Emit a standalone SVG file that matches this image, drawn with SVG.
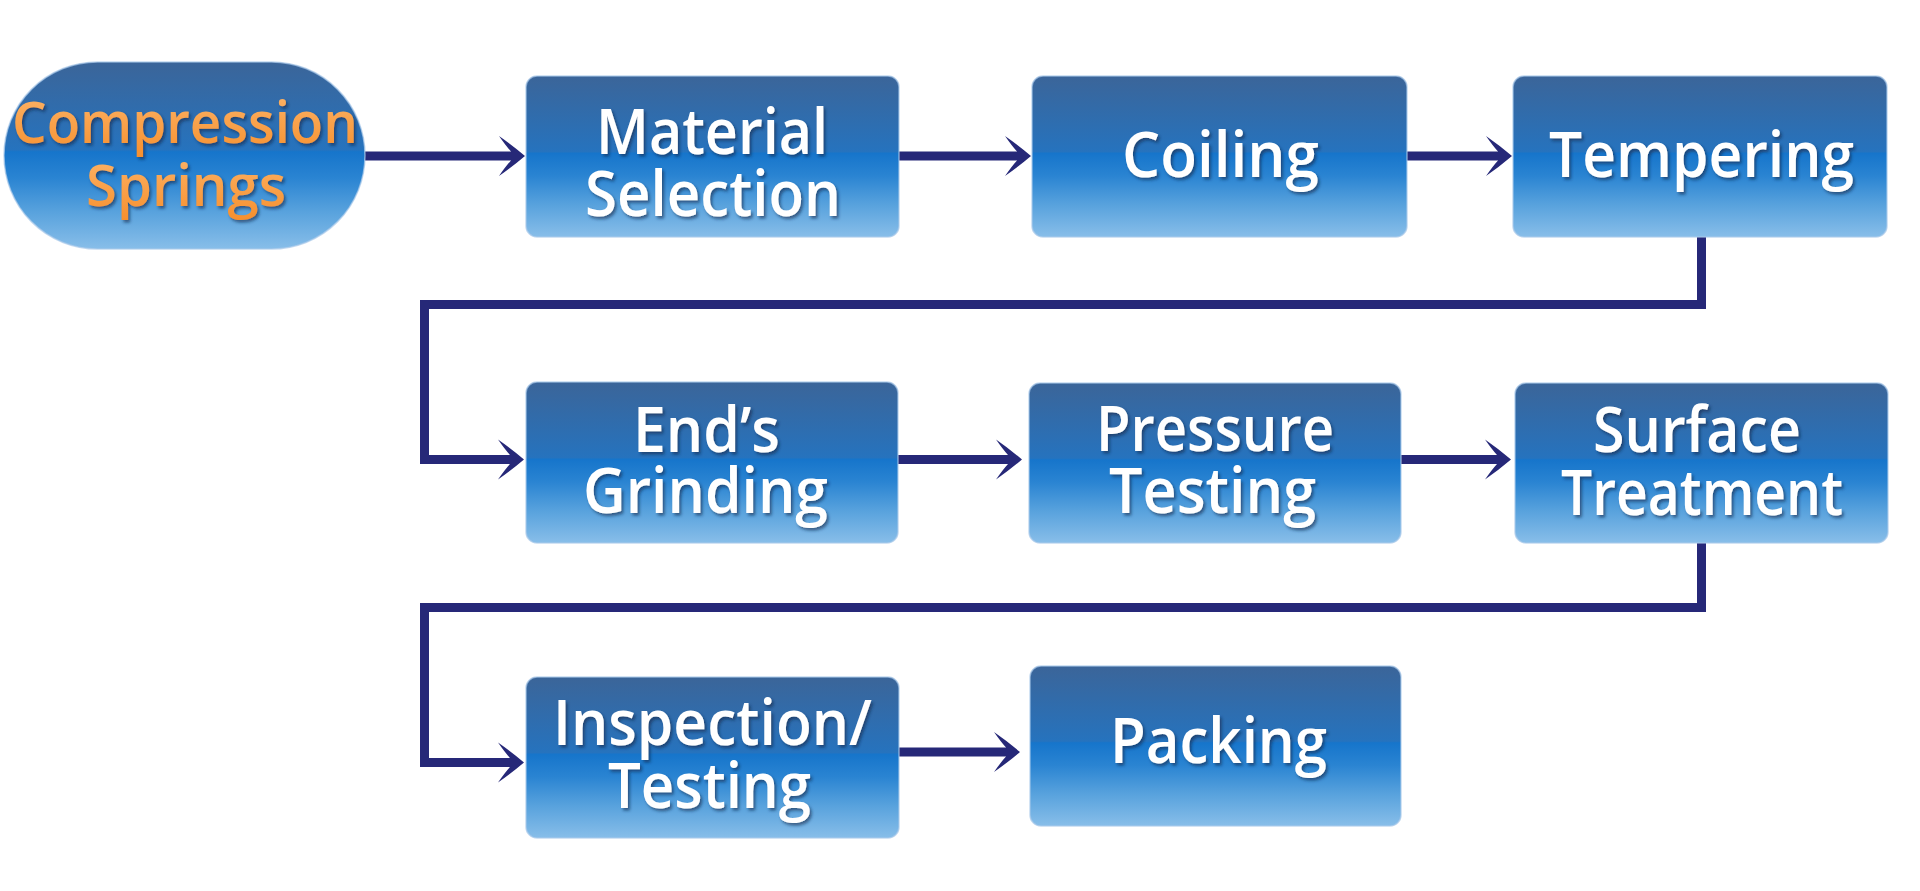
<svg xmlns="http://www.w3.org/2000/svg" width="1920" height="891" viewBox="0 0 1920 891">
  <defs>
    <linearGradient id="boxGrad" x1="0" y1="0" x2="0" y2="1">
      <stop offset="0" stop-color="#3b6599"/>
      <stop offset="0.47" stop-color="#2673be"/>
      <stop offset="0.48" stop-color="#1675cb"/>
      <stop offset="0.62" stop-color="#2a84d2"/>
      <stop offset="0.8" stop-color="#58a2dd"/>
      <stop offset="1" stop-color="#88bee9"/>
    </linearGradient>
    <linearGradient id="orangeGrad" x1="0" y1="0" x2="0" y2="1">
      <stop offset="0" stop-color="#fdb86f"/>
      <stop offset="1" stop-color="#f68e2b"/>
    </linearGradient>
    <filter id="txtShadow" x="-10%" y="-20%" width="120%" height="150%">
      <feDropShadow dx="2" dy="2.5" stdDeviation="1.5" flood-color="#0d2547" flood-opacity="0.6"/>
    </filter>
    <marker id="arrow" markerUnits="userSpaceOnUse" markerWidth="30" markerHeight="44" viewBox="0 -22 30 44" refX="12" refY="0" orient="auto" overflow="visible">
      <path d="M26,0 Q13,-11 0,-20 Q7,-10 12,-4.5 L12,4.5 Q7,10 0,20 Q13,11 26,0 Z" fill="#262878"/>
    </marker>
    <style>
      .box { fill: url(#boxGrad); stroke: #a9c9e9; stroke-opacity: 0.7; stroke-width: 1.5; }
      .lbl { font-family: "Open Sans", "Noto Sans", "DejaVu Sans", sans-serif; font-weight: 600; font-size: 63px; fill: #ffffff; text-anchor: middle; filter: url(#txtShadow); }
      .start { font-family: "Open Sans", "Noto Sans", "DejaVu Sans", sans-serif; font-weight: 600; font-size: 57px; fill: url(#orangeGrad); text-anchor: middle; filter: url(#txtShadow); }
      .conn { fill: none; stroke: #262878; stroke-width: 9; stroke-linejoin: miter; }
    </style>
  </defs>
  <rect width="1920" height="891" fill="#ffffff"/>

  <g id="connectors">
    <path class="conn" d="M365,156 H511" marker-end="url(#arrow)"/>
    <path class="conn" d="M899,156 H1017" marker-end="url(#arrow)"/>
    <path class="conn" d="M1407,156 H1498" marker-end="url(#arrow)"/>
    <path class="conn" d="M1701.5,237 V304.5 H424.5 V459.5 H510" marker-end="url(#arrow)"/>
    <path class="conn" d="M898,459.5 H1008" marker-end="url(#arrow)"/>
    <path class="conn" d="M1401,459.5 H1497" marker-end="url(#arrow)"/>
    <path class="conn" d="M1701.5,543 V607.5 H424.5 V762.5 H510" marker-end="url(#arrow)"/>
    <path class="conn" d="M899,752 H1006" marker-end="url(#arrow)"/>
  </g>

  <g id="node-compression-springs">
    <rect class="box" x="4" y="62" width="361" height="187" rx="93.5" ry="93.5"/>
    <text class="start" x="185" y="143" textLength="346" lengthAdjust="spacingAndGlyphs">Compression</text>
    <text class="start" x="186" y="206" textLength="200" lengthAdjust="spacingAndGlyphs">Springs</text>
  </g>

  <g id="node-material-selection">
    <rect class="box" x="526" y="76" width="373" height="161" rx="11"/>
    <text class="lbl" x="712" y="154" textLength="232" lengthAdjust="spacingAndGlyphs">Material</text>
    <text class="lbl" x="713" y="216" textLength="256" lengthAdjust="spacingAndGlyphs">Selection</text>
  </g>

  <g id="node-coiling">
    <rect class="box" x="1032" y="76" width="375" height="161" rx="11"/>
    <text class="lbl" x="1220.5" y="177" textLength="197" lengthAdjust="spacingAndGlyphs">Coiling</text>
  </g>

  <g id="node-tempering">
    <rect class="box" x="1513" y="76" width="374" height="161" rx="11"/>
    <text class="lbl" x="1701.5" y="177" textLength="305" lengthAdjust="spacingAndGlyphs">Tempering</text>
  </g>

  <g id="node-ends-grinding">
    <rect class="box" x="526" y="382" width="372" height="161" rx="11"/>
    <text class="lbl" x="706.5" y="452" textLength="147" lengthAdjust="spacingAndGlyphs">End’s</text>
    <text class="lbl" x="705.5" y="513" textLength="245" lengthAdjust="spacingAndGlyphs">Grinding</text>
  </g>

  <g id="node-pressure-testing">
    <rect class="box" x="1029" y="383" width="372" height="160" rx="11"/>
    <text class="lbl" x="1215" y="451" textLength="238" lengthAdjust="spacingAndGlyphs">Pressure</text>
    <text class="lbl" x="1212.5" y="513" textLength="207" lengthAdjust="spacingAndGlyphs">Testing</text>
  </g>

  <g id="node-surface-treatment">
    <rect class="box" x="1515" y="383" width="373" height="160" rx="11"/>
    <text class="lbl" x="1697" y="452" textLength="208" lengthAdjust="spacingAndGlyphs">Surface</text>
    <text class="lbl" x="1702" y="515" textLength="282" lengthAdjust="spacingAndGlyphs">Treatment</text>
  </g>

  <g id="node-inspection-testing">
    <rect class="box" x="526" y="677" width="373" height="161" rx="11"/>
    <text class="lbl" x="712.5" y="745" textLength="319" lengthAdjust="spacingAndGlyphs">Inspection/</text>
    <text class="lbl" x="709.5" y="808" textLength="203" lengthAdjust="spacingAndGlyphs">Testing</text>
  </g>

  <g id="node-packing">
    <rect class="box" x="1030" y="666" width="371" height="160" rx="11"/>
    <text class="lbl" x="1218.5" y="763" textLength="217" lengthAdjust="spacingAndGlyphs">Packing</text>
  </g>
</svg>
